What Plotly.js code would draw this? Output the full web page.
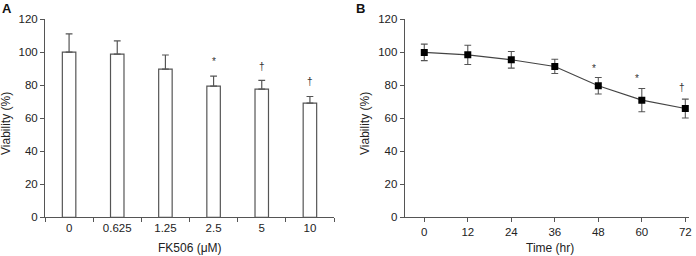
<!DOCTYPE html>
<html>
<head>
<meta charset="utf-8">
<script src="https://cdn.plot.ly/plotly-3.0.1.min.js"></script>
<style>
  html, body { margin: 0; padding: 0; background: #fff; }
  #chart { width: 696px; height: 256px; }
</style>
</head>
<body>
<div id="chart"></div>
<script>
// Panel A: viability after FK506 treatment at different doses
const doseLabels = ['0', '0.625', '1.25', '2.5', '5', '10'];
const doseViability = [100, 98.8, 89.7, 79.4, 77.6, 69.1];
const doseError = [11, 8, 8.5, 6, 5.2, 4];
const doseMarks = ['', '', '', '*', '†', '†'];
const doseMarkY = [0, 0, 0, 94, 91, 82];

// Panel B: viability over time
const timeHours = [0, 12, 24, 36, 48, 60, 72];
const timeViability = [99.8, 98.3, 95.3, 91.3, 79.6, 70.9, 65.8];
const timeError = [5, 5.8, 5, 4.3, 5, 7, 5.7];
const timeMarks = ['', '', '', '', '*', '*', '†'];
const timeMarkX = [0, 0, 0, 0, 46.7, 58.7, 71.1];
const timeMarkY = [0, 0, 0, 0, 90, 84, 78.5];

const W = 696, H = 256;
const px = x => x / W;
const py = y => 1 - y / H;

const axisColor = '#555';
const textColor = '#222';
const family = 'Liberation Sans, Arial, sans-serif';
const font = { family: family, size: 12, color: textColor };
const tickFont = { family: family, size: 11.5, color: textColor };
const markFont = { family: family, size: 10, color: '#333' };

const traces = [
  {
    type: 'bar',
    x: doseLabels,
    y: doseViability,
    width: 0.28,
    marker: { color: '#fff', line: { color: '#555', width: 1.2 } },
    error_y: {
      type: 'data', symmetric: false,
      array: doseError, arrayminus: doseError.map(() => 0),
      color: '#555', thickness: 1.2, width: 3.4
    },
    xaxis: 'x', yaxis: 'y',
    hoverinfo: 'skip'
  },
  {
    type: 'scatter',
    mode: 'lines+markers',
    x: timeHours,
    y: timeViability,
    line: { color: '#444', width: 1.1 },
    marker: { symbol: 'square', size: 7, color: '#000' },
    error_y: {
      type: 'data', array: timeError,
      color: '#555', thickness: 1.1, width: 3.4
    },
    xaxis: 'x2', yaxis: 'y2',
    hoverinfo: 'skip'
  }
];

const yAxisBase = {
  range: [0, 120],
  tickvals: [0, 20, 40, 60, 80, 100, 120],
  ticks: 'outside', ticklen: 4, tickwidth: 1, tickcolor: axisColor,
  showline: true, linecolor: axisColor, linewidth: 1,
  showgrid: false, zeroline: false,
  domain: [38.7 / H, 237 / H],
  tickfont: tickFont,
  fixedrange: true
};

const annotations = [];

// panel letters
annotations.push({ text: '<b>A</b>', xref: 'paper', yref: 'paper', x: 0, y: py(8),
  xanchor: 'left', yanchor: 'middle', showarrow: false,
  font: { family: family, size: 13, color: '#111' } });
annotations.push({ text: '<b>B</b>', xref: 'paper', yref: 'paper', x: px(360), y: py(8),
  xanchor: 'center', yanchor: 'middle', showarrow: false,
  font: { family: family, size: 13, color: '#111' } });

// axis titles
annotations.push({ text: 'Viability (%)', xref: 'paper', yref: 'paper', x: px(5.5), y: py(123.5),
  xanchor: 'center', yanchor: 'middle', textangle: -90, showarrow: false, font: font });
annotations.push({ text: 'Viability (%)', xref: 'paper', yref: 'paper', x: px(364.5), y: py(123.5),
  xanchor: 'center', yanchor: 'middle', textangle: -90, showarrow: false, font: font });
annotations.push({ text: 'FK506 (μM)', xref: 'paper', yref: 'paper', x: px(190), y: py(248),
  xanchor: 'center', yanchor: 'middle', showarrow: false, font: font });
annotations.push({ text: 'Time (hr)', xref: 'paper', yref: 'paper', x: px(550), y: py(248),
  xanchor: 'center', yanchor: 'middle', showarrow: false, font: font });

// significance marks (category axis: position by category index)
doseMarks.forEach((m, i) => {
  if (!m) return;
  annotations.push({ text: m, xref: 'x', yref: 'y', x: i, y: doseMarkY[i],
    xanchor: 'center', yanchor: 'middle', showarrow: false, font: markFont });
});
timeMarks.forEach((m, i) => {
  if (!m) return;
  annotations.push({ text: m, xref: 'x2', yref: 'y2', x: timeMarkX[i], y: timeMarkY[i],
    xanchor: 'center', yanchor: 'middle', showarrow: false, font: markFont });
});

const layout = {
  width: W, height: H,
  margin: { l: 0, r: 0, t: 0, b: 0, pad: 0 },
  paper_bgcolor: '#fff', plot_bgcolor: '#fff',
  showlegend: false,
  font: font,
  xaxis: {
    type: 'category',
    domain: [px(45), px(334)],
    range: [-0.5, 5.5],
    tickson: 'boundaries',
    ticks: 'outside', ticklen: 4, tickwidth: 1, tickcolor: axisColor,
    showline: true, linecolor: axisColor, linewidth: 1,
    showgrid: false, zeroline: false,
    tickfont: tickFont, anchor: 'y', fixedrange: true
  },
  yaxis: Object.assign({}, yAxisBase, { anchor: 'x' }),
  xaxis2: {
    domain: [px(404.7), px(689.3)],
    range: [-5.4, 73.1],
    tickvals: timeHours,
    ticks: 'outside', ticklen: 4, tickwidth: 1, tickcolor: axisColor,
    showline: true, linecolor: axisColor, linewidth: 1,
    showgrid: false, zeroline: false,
    tickfont: tickFont, anchor: 'y2', fixedrange: true
  },
  yaxis2: Object.assign({}, yAxisBase, { anchor: 'x2' }),
  annotations: annotations
};

Plotly.newPlot('chart', traces, layout, { displayModeBar: false, staticPlot: true });
</script>
</body>
</html>
